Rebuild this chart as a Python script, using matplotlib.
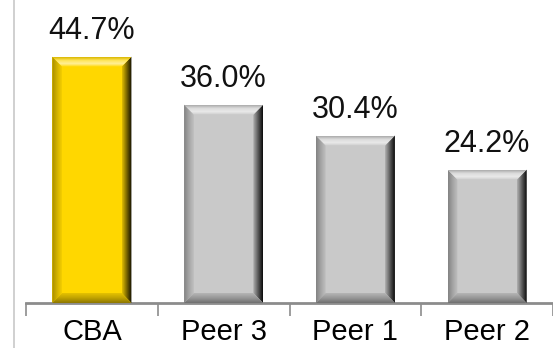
import numpy as np
import matplotlib
matplotlib.use("Agg")
import matplotlib.pyplot as plt
from matplotlib.patches import Polygon
from matplotlib.lines import Line2D
from matplotlib.colors import to_rgb

plt.rcParams['font.family'] = ['Liberation Sans', 'DejaVu Sans']

# Data
categories = ['CBA', 'Peer 3', 'Peer 1', 'Peer 2']
values = [44.7, 36.0, 30.4, 24.2]
bar_colors = ['#FFD700', '#C9C9C9']


def gradient_patch(ax, poly_pts, extent, cols, horizontal):
    # draw a linear gradient clipped to a polygon
    n = 64
    cols = np.array(cols)
    t = np.linspace(0, 1, len(cols))
    s = np.linspace(0, 1, n)
    arr = np.stack([np.interp(s, t, cols[:, k]) for k in range(3)], axis=-1)
    if horizontal:
        img = arr[np.newaxis, :, :]
    else:
        img = arr[::-1][:, np.newaxis, :]  # row 0 is top
    im = ax.imshow(img, extent=extent, aspect='auto', origin='upper',
                   interpolation='bilinear', zorder=3)
    poly = Polygon(poly_pts, closed=True, transform=ax.transData,
                   facecolor='none', edgecolor='none')
    ax.add_patch(poly)
    im.set_clip_path(poly)


def bevel(ax, rect, base, bx, by):
    x0, y0 = rect.get_x(), rect.get_y()
    x1, y1 = x0 + rect.get_width(), y0 + rect.get_height()
    c = np.array(to_rgb(base))
    w = np.ones(3)
    dark = lambda f: c * f
    light = lambda f: c + (w - c) * f
    # left side: outer -> inner
    gradient_patch(ax, [(x0, y0), (x0 + bx, y0 + by), (x0 + bx, y1 - by), (x0, y1)],
                   (x0, x0 + bx, y0, y1),
                   [dark(0.65), dark(0.82), dark(0.96)], True)
    # right side: inner -> outer
    gradient_patch(ax, [(x1, y0), (x1 - bx, y0 + by), (x1 - bx, y1 - by), (x1, y1)],
                   (x1 - bx, x1, y0, y1),
                   [dark(0.88), dark(0.6), dark(0.32), dark(0.05)], True)
    # top: inner(bottom of band) -> outer(top)
    gradient_patch(ax, [(x0, y1), (x0 + bx, y1 - by), (x1 - bx, y1 - by), (x1, y1)],
                   (x0, x1, y1 - by, y1),
                   [c, light(0.6), light(0.35), dark(0.85)], False)
    # bottom: outer(bottom) -> inner
    gradient_patch(ax, [(x0, y0), (x0 + bx, y0 + by), (x1 - bx, y0 + by), (x1, y0)],
                   (x0, x1, y0, y0 + by),
                   [dark(0.55), dark(0.75), dark(0.9)], False)


fig = plt.figure(figsize=(5.53, 3.48), dpi=100)
ax = fig.add_axes([26 / 553, 45 / 348, 527 / 553, 303 / 348])

x = np.arange(len(categories))
colors = [bar_colors[0]] + [bar_colors[1]] * (len(categories) - 1)
bars = ax.bar(x, values, width=0.6, color=colors, zorder=2)

xlim = (-0.5, -0.5 + 527 / 134)
ylim = (0, 55)
# bevel size ~10 px in data units
bx = 10 / 134
by = 10 / (303 / 55)
for rect, col in zip(bars, colors):
    bevel(ax, rect, col, bx, by)

for xi, v in zip(x, values):
    ax.text(xi, v + 3.2, f'{v:.1f}%', ha='center', va='baseline', fontsize=22,
            color='#111111')

ax.set_xlim(*xlim)
ax.set_ylim(*ylim)

ax.set_xticks(np.arange(-0.5, len(categories) + 0.5, 1))
ax.set_xticklabels([])
ax.set_xticks(x, minor=True)
ax.set_xticklabels(categories, minor=True, fontsize=21)
ax.tick_params(axis='x', which='major', direction='out', length=9, width=1.2,
               color='#8c8c8c')
ax.tick_params(axis='x', which='minor', length=0, pad=10.5)
ax.set_yticks([])
for sp in ['top', 'right', 'left']:
    ax.spines[sp].set_visible(False)
ax.spines['bottom'].set_color('#8c8c8c')
ax.spines['bottom'].set_linewidth(2)
ax.patch.set_visible(False)

# thin vertical rule at the left edge
fig.add_artist(Line2D([14 / 553, 14 / 553], [0, 1], color='#c8c8c8', lw=1.2))

fig.savefig('out.png', dpi=100)
